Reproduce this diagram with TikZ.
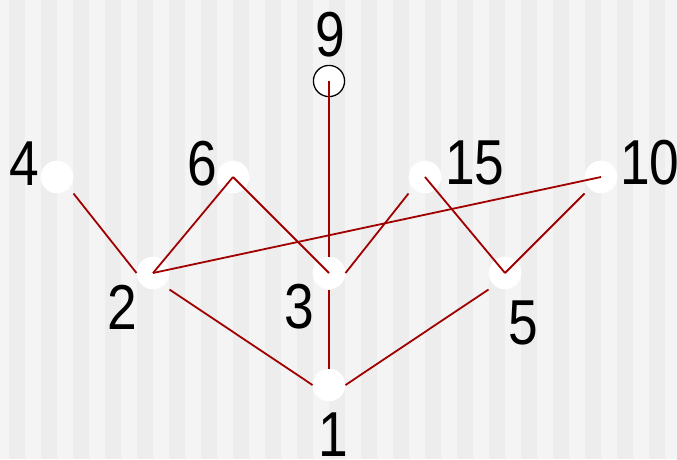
\documentclass[tikz,border=0pt]{standalone}
\usepackage{fontspec}
\newfontfamily\lblfont{Liberation Sans}[FakeStretch=0.84]
\definecolor{stripelight}{HTML}{F4F4F4}
\definecolor{stripedark}{HTML}{EDEDED}
\definecolor{edgered}{HTML}{A00000}
\begin{document}
\begin{tikzpicture}[x=1pt,y=-1pt,
  vtx/.style={rectangle, minimum size=32.6pt, inner sep=0pt, draw=none,
    path picture={\fill[white] (path picture bounding box.center) circle (16.3pt);}},
  vtxring/.style={rectangle, minimum size=32.6pt, inner sep=0pt, draw=none,
    path picture={\fill[white] (path picture bounding box.center) circle (16.3pt);
      \draw[black, line width=1.3pt] (path picture bounding box.center) circle (15.6pt);}},
  lbl/.style={inner sep=0pt, font=\lblfont\fontsize{63.5}{70}\selectfont, text=black},
  edge/.style={draw=edgered, line width=1.8pt}]
\useasboundingbox (0,0) rectangle (677,459);
\fill[stripelight] (0,0) rectangle (677,459);
\foreach \i in {0,...,20} \fill[stripedark] ({9+32*\i},0) rectangle ++(16,459);
% vertices
\node[vtx] (n4) at (57,177) {};
\node[vtx] (n6) at (233,177) {};
\node[vtxring] (n9) at (329,81) {};
\node[vtx] (n15) at (425,177) {};
\node[vtx] (n10) at (601,177) {};
\node[vtx] (n2) at (153,273) {};
\node[vtx] (n3) at (329,273) {};
\node[vtx] (n5) at (505,273) {};
\node[vtx] (n1) at (329,385) {};
% edges
\draw[edge] (n4.south east) -- (n2.west);
\draw[edge] (n6.center) -- (n2.center);
\draw[edge] (n6.center) -- (n3.center);
\draw[edge] (n9.center) -- (n3.north);
\draw[edge] (n15.south west) -- (n3.east);
\draw[edge] (n15.center) -- (n5.center);
\draw[edge] (n10.south west) -- (n5.center);
\draw[edge] (n10.center) -- (n2.center);
\draw[edge] (n2.south east) -- (n1.west);
\draw[edge] (n3.south) -- (n1.north);
\draw[edge] (n5.south west) -- (n1.east);
% labels
\node[lbl] (l4) at (24.5,164) {4};
\node[lbl] (l6) at (202.5,164) {6};
\node[lbl] (l9) at (330.8,34.5) {9};
\node[lbl] (l15) at (475,163) {15};
\node[lbl, inner xsep=-3pt] (l10) at (649.7,163) {10};
\node[lbl] (l2) at (122.5,307) {2};
\node[lbl] (l3) at (299,307) {3};
\node[lbl] (l5) at (523,322.5) {5};
\node[lbl, inner ysep=-1.5pt] (l1) at (333,434.5) {1};
\end{tikzpicture}
\end{document}
